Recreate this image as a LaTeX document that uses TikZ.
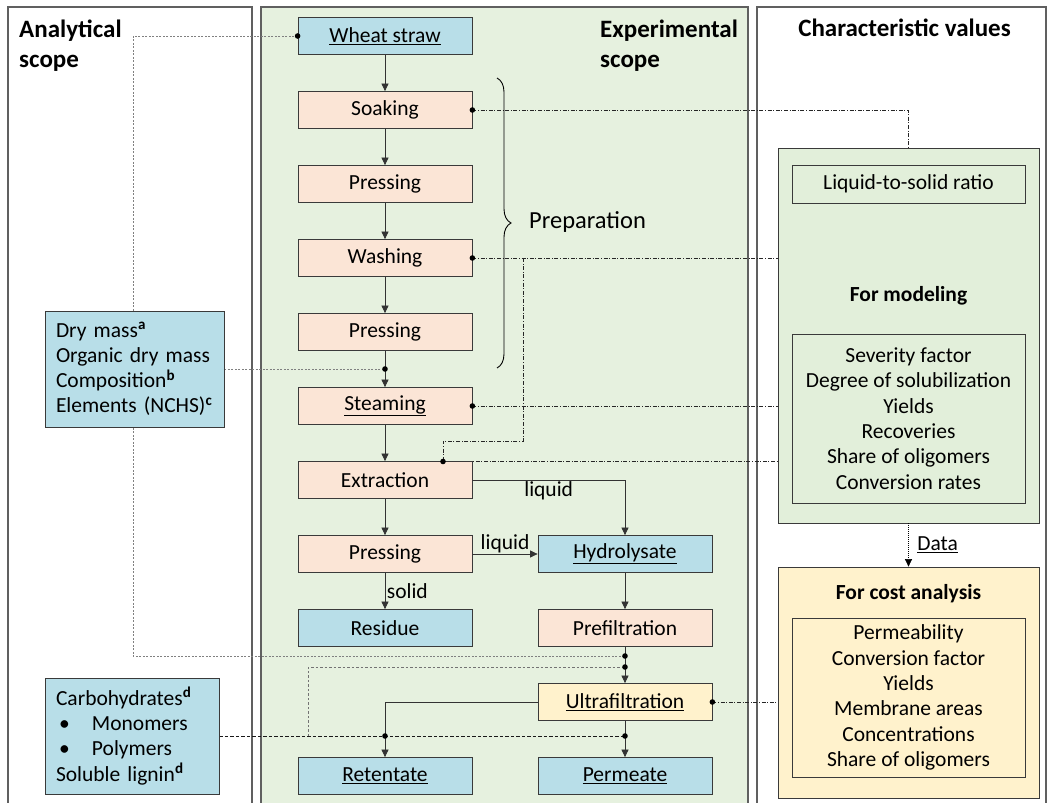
\documentclass[tikz,border=0pt]{standalone}
\usepackage{fontspec}
\setmainfont{Carlito}
\usetikzlibrary{arrows.meta,decorations.pathreplacing,calc}

\definecolor{panelgreen}{HTML}{E6F1DF}
\definecolor{boxgreen}{HTML}{E2EFDA}
\definecolor{boxblue}{HTML}{B8DEE8}
\definecolor{boxpink}{HTML}{FBE5D6}
\definecolor{boxyellow}{HTML}{FFF2CC}
\definecolor{edge}{HTML}{3A3A3A}
\definecolor{panelline}{HTML}{606060}

\pgfdeclarelayer{bg}
\pgfdeclarelayer{wires}
\pgfsetlayers{bg,wires,main}

\tikzset{
  panel/.style={draw=panelline, line width=1.1pt},
  box/.style={draw=edge, line width=0.8pt, minimum width=174pt, minimum height=37pt,
    inner sep=0pt, font=\fontsize{21.5}{24}\selectfont},
  pinkbox/.style={box, fill=boxpink},
  bluebox/.style={box, fill=boxblue},
  yellowbox/.style={box, fill=boxyellow},
  listbox/.style={draw=edge, line width=0.8pt, inner sep=0pt,
    font=\fontsize{21.5}{25.3}\selectfont},
  titletext/.style={font=\fontsize{25}{30}\selectfont\bfseries, inner sep=0pt},
  headtext/.style={font=\fontsize{21.5}{24}\selectfont\bfseries, inner sep=0pt},
  lbl/.style={font=\fontsize{21.5}{24}\selectfont, inner sep=1.5pt},
  arr/.style={-{Triangle[length=7.5pt,width=7pt]}, line width=0.75pt, draw=black!80},
  ddline/.style={line width=0.55pt, draw=black!85, dash pattern=on 4pt off 1.6pt on 1pt off 1.6pt},
  gdline/.style={line width=0.9pt, draw=black!50, dash pattern=on 2pt off 1.5pt},
  dline/.style={line width=0.7pt, draw=black!90, dash pattern=on 3.5pt off 2pt},
  gdashline/.style={line width=0.8pt, draw=black!55, dash pattern=on 2.5pt off 2pt},
  dotarr/.style={-{Triangle[length=7.5pt,width=7pt]}, line width=0.6pt,
    dash pattern=on 1pt off 1pt},
  jdot/.style={fill=black}
}

\begin{document}
\begin{tikzpicture}[x=1pt, y=-1pt]
\useasboundingbox (0,0) rectangle (1053,803);

% three scope panels (open at the bottom)
\begin{pgfonlayer}{bg}
  \draw[panel] (8,830) -- (8,7) -- (252,7) -- (252,830);
  \filldraw[panel, fill=panelgreen] (261,830) -- (261,7) -- (748,7) -- (748,830);
  \draw[panel] (757,830) -- (757,7) -- (1046,7) -- (1046,830);
\end{pgfonlayer}

% panel titles
\node[titletext, anchor=north west, align=left] (tana) at (19,19.5) {Analytical\\scope};
\node[titletext, anchor=north west, align=left] (texp) at (600,19.5) {Experimental\\scope};
\node[titletext] (tchar) at (904.5,28) {Characteristic values};

% process chain
\node[bluebox]   (ws)      at (385,36)  {\underline{Wheat straw}};
\node[pinkbox]   (soak)    at (385,110) {Soaking};
\node[pinkbox]   (pr1)     at (385,184) {Pressing};
\node[pinkbox]   (wash)    at (385,258) {Washing};
\node[pinkbox]   (pr2)     at (385,332) {Pressing};
\node[pinkbox]   (steam)   at (385,406) {\underline{Steaming}};
\node[pinkbox]   (extr)    at (385,480) {Extraction};
\node[pinkbox]   (pr3)     at (385,554) {Pressing};
\node[bluebox]   (resid)   at (385,628) {Residue};
\node[bluebox]   (hydro)   at (625,554) {\underline{Hydrolysate}};
\node[pinkbox]   (prefilt) at (625,628) {Prefiltration};
\node[yellowbox] (ultra)   at (625,702) {\underline{Ultrafiltration}};
\node[bluebox]   (ret)     at (385,776) {\underline{Retentate}};
\node[bluebox]   (perm)    at (625,776) {\underline{Permeate}};

% preparation brace
\draw[line width=0.9pt, decorate, decoration={brace, amplitude=14pt}] (497,78) -- (497,368);
\node[font=\fontsize{24.5}{28}\selectfont, anchor=west, inner sep=0pt] (prep) at (529,222) {Preparation};

% analytical boxes
\node[listbox, fill=boxblue, minimum width=179pt, minimum height=116pt,
      text width=157pt, align=left] (dry) at (134.5,369)
  {Dry mass\textsuperscript{\textbf{a}}\\
   Organic dry mass\\
   Composition\textsuperscript{\textbf{b}}\\
   Elements (NCHS)\textsuperscript{\textbf{c}}};
\node[listbox, fill=boxblue, minimum width=174pt, minimum height=116pt,
      text width=152pt, align=left] (carb) at (132,736)
  {Carbohydrates\textsuperscript{\textbf{d}}\\
   \hspace*{3pt}\makebox[33pt][l]{\textbullet}Monomers\\
   \hspace*{3pt}\makebox[33pt][l]{\textbullet}Polymers\\
   Soluble lignin\textsuperscript{\textbf{d}}};

% characteristic values
\node[listbox, fill=boxgreen, minimum width=261pt, minimum height=375pt] (model) at (908.5,335.5) {};
\node[listbox, fill=boxgreen, minimum width=233pt, minimum height=38pt] (lts) at (908.5,184) {Liquid-to-solid ratio};
\node[headtext] (formod) at (908.5,296) {For modeling};
\node[listbox, fill=boxgreen, minimum width=233pt, minimum height=169pt, align=center] (mlist) at (908.5,418.5)
  {Severity factor\\ Degree of solubilization\\ Yields\\ Recoveries\\ Share of oligomers\\ Conversion rates};
\node[listbox, fill=boxyellow, minimum width=261pt, minimum height=231pt] (cost) at (908.5,682.5) {};
\node[headtext] (forcost) at (908.5,594) {For cost analysis};
\node[listbox, fill=boxyellow, minimum width=233pt, minimum height=159pt, align=center] (clist) at (908.5,697.5)
  {Permeability\\ Conversion factor\\ Yields\\ Membrane areas\\ Concentrations\\ Share of oligomers};

% junction points
\coordinate (jdry)  at (385,369);
\coordinate (jext)  at (443,461.5);
\coordinate (jwash) at (523,258);
\coordinate (jwb)   at (523,441);
\coordinate (jpu1)  at (625,656);
\coordinate (jpu2)  at (625,667);
\coordinate (jleft) at (133,656);
\coordinate (jcarb) at (308,736);
\coordinate (jret)  at (385,736);
\coordinate (jperm) at (625,736);

% material flow
\draw[arr] (ws) -- (soak);
\draw[arr] (soak) -- (pr1);
\draw[arr] (pr1) -- (wash);
\draw[arr] (wash) -- (pr2);
\draw[arr] (pr2) -- (steam);
\draw[arr] (steam) -- (extr);
\draw[arr] (extr) -- (pr3);
\draw[arr] (pr3) -- (resid) node[midway, right, lbl] {solid};
\draw[arr] (pr3) -- (hydro) node[midway, above, lbl, inner sep=0.5pt] {liquid};
\draw[arr] (extr.east) -| (hydro.north) node[pos=0.25, below, lbl, inner sep=1pt] {liquid};
\draw[arr] (hydro) -- (prefilt);
\draw[arr] (prefilt) -- (ultra);
\draw[arr] (ultra.west) -| (ret.north);
\draw[arr] (ultra) -- (perm);
\draw[dotarr] (model.south) -- (cost.north) node[midway, right, lbl, xshift=7pt] {\underline{Data}};

% analysis and data links
\begin{pgfonlayer}{wires}
  \draw[gdline] (ws.west) -| (jleft) -- (jpu1);
  \draw[gdline] (dry.east) -- (jdry);
  \draw[dline] (carb.east) -- (jperm);
  \draw[gdashline] (jcarb) |- (jpu2);
  \draw[ddline] (soak.east) -| (lts.north);
  \draw[ddline] (wash.east) -| (lts.south);
  \draw[ddline] (jwash) -- (jwb) -| (jext);
  \draw[ddline] (jext) -- (jext -| mlist.west);
  \draw[ddline] (steam.east) -- (steam.east -| mlist.west);
  \draw[ddline] (ultra.east) -- (ultra.east -| clist.west);
\end{pgfonlayer}

% junction dots
\foreach \p in {ws.west, soak.east, wash.east, steam.east, ultra.east,
                jdry, jext, jpu1, jpu2, jret, jperm}
  \fill[jdot] (\p) circle (2.8pt);

\end{tikzpicture}
\end{document}
